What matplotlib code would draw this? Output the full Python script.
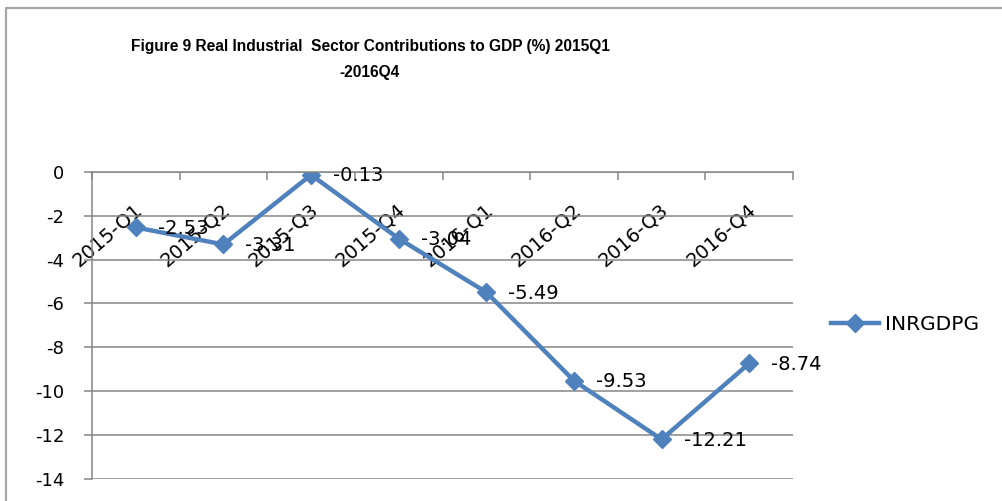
import matplotlib.pyplot as plt
import matplotlib.transforms as mtransforms
from matplotlib.lines import Line2D

# === data ===
quarters = ["2015-Q1", "2015-Q2", "2015-Q3", "2015-Q4",
            "2016-Q1", "2016-Q2", "2016-Q3", "2016-Q4"]
inrgdpg = [-2.53, -3.31, -0.13, -3.04, -5.49, -9.53, -12.21, -8.74]
yticks = [0, -2, -4, -6, -8, -10, -12, -14]

blue = "#4F81BD"
grid = "#868686"
W, H = 1003, 501

fig = plt.figure(figsize=(W / 100, H / 100), dpi=100)
ax = fig.add_axes([92 / W, 1 - 478.6 / H, (793 - 92) / W, (478.6 - 172) / H])

x = list(range(len(quarters)))
ax.plot(x, inrgdpg, color=blue, lw=3.2, marker="D", ms=9, label="INRGDPG")

for xi, v in zip(x, inrgdpg):
    ax.annotate(f"{v:.2f}", (xi, v), xytext=(22, -1), textcoords="offset pixels",
                ha="left", va="center", fontsize=14, color="black")

ax.set_xlim(-0.5, len(quarters) - 0.5)
ax.set_ylim(-14, 0)
ax.set_yticks(yticks)
ax.set_yticklabels([str(t) for t in yticks], fontsize=13)
ax.yaxis.grid(True, color=grid, lw=1.1)
ax.set_axisbelow(True)

# category axis crosses at 0
ax.spines["bottom"].set_position(("data", 0))
ax.spines["top"].set_visible(False)
ax.spines["right"].set_visible(False)
for s in ("bottom", "left"):
    ax.spines[s].set_color(grid)
    ax.spines[s].set_linewidth(1.1)

ax.set_xticks(x)
ax.set_xticklabels(quarters, fontsize=14, rotation=41, ha="right", va="top",
                   rotation_mode="anchor")
ax.set_xticks([i - 0.5 for i in range(len(quarters) + 1)], minor=True)
ax.tick_params(axis="x", which="major", length=0, pad=20)
ax.tick_params(axis="x", which="minor", length=6, color=grid, width=1.1)
ax.tick_params(axis="y", length=6, color=grid, width=1.1, pad=14)
shift = mtransforms.ScaledTranslation(-2 / 100, 0, fig.dpi_scale_trans)
for lab in ax.get_xticklabels():
    lab.set_transform(lab.get_transform() + shift)

ax.legend(loc="center left", bbox_to_anchor=(831 / W, 1 - 325 / H),
          bbox_transform=fig.transFigure, frameon=False, fontsize=14.5,
          handlelength=2.4, handletextpad=0.3, borderpad=0, borderaxespad=0)

title_font = ["Liberation Sans", "DejaVu Sans"]
fig.text(370 / W, 1 - 46 / H, "Figure 9 Real Industrial  Sector Contributions to GDP (%) 2015Q1",
         ha="center", va="center", fontsize=11.2, fontweight="bold", family=title_font)
fig.text(370 / W, 1 - 73 / H, "-2016Q4", ha="center", va="center", fontsize=11.2,
         fontweight="bold", family=title_font)

# chart area border (left and top edges visible)
fig.add_artist(Line2D([6.5 / W, 6.5 / W, 1], [0, 1 - 7.5 / H, 1 - 7.5 / H],
                      transform=fig.transFigure, color="#a6a6a6", lw=1.6))

fig.savefig("out.png", dpi=100)
